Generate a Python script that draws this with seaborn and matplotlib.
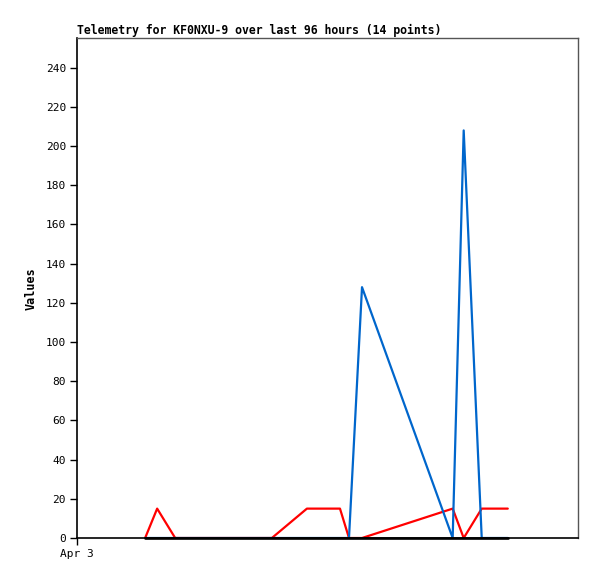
import pandas as pd
import matplotlib
matplotlib.use("Agg")
import matplotlib.pyplot as plt
import seaborn as sns

# hours since start of window (Apr 3)
hours = [13.6, 16.0, 19.6, 38.9, 45.9, 52.5, 54.3, 56.9, 75.0, 77.2, 80.8, 86.0]
red_vals = [0, 15, 0, 0, 15, 15, 0, 0, 15, 0, 15, 15]
blue_vals = [0, 0, 0, 0, 0, 0, 0, 128, 0, 208, 0, 0]
black_vals = [0] * len(hours)

yticks = [0, 20, 40, 60, 80, 100, 120, 140, 160, 180, 200, 220, 240]
xtick_pos = [0]
xtick_labels = ["Apr 3"]

df = pd.DataFrame({"hours": hours, "red": red_vals, "blue": blue_vals, "black": black_vals})

sns.set_style("white")
plt.rcParams["font.family"] = ["DejaVu Sans Mono"]
plt.rcParams["text.color"] = "black"
plt.rcParams["axes.labelcolor"] = "black"
plt.rcParams["xtick.color"] = "black"
plt.rcParams["ytick.color"] = "black"

fig = plt.figure(figsize=(5.97, 5.79), dpi=100)
ax = fig.add_axes([0.129, 0.0708, 0.839, 0.863])

sns.lineplot(data=df, x="hours", y="red", color="#ff0000", linewidth=1.6, ax=ax)
sns.lineplot(data=df, x="hours", y="blue", color="#0066cc", linewidth=1.6, ax=ax)
sns.lineplot(data=df, x="hours", y="black", color="#000000", linewidth=1.9, ax=ax)
ax.lines[-1].set_clip_on(False)
ax.lines[-1].set_zorder(5)

ax.set_xlim(0, 100)
ax.set_ylim(0, 255)
ax.set_yticks(yticks)
ax.set_xticks(xtick_pos)
ax.set_xticklabels(xtick_labels)
ax.tick_params(axis="both", direction="out", length=5, width=1, color="black",
               labelsize=8, pad=3, left=True, bottom=True, labelcolor="black")

ax.set_xlabel("")
ax.set_ylabel("Values", fontsize=8.5, fontweight="bold", labelpad=6, color="black")
ax.set_title("Telemetry for KF0NXU-9 over last 96 hours (14 points)",
             fontsize=8.3, fontweight="bold", loc="left", pad=3, color="black")

for side in ["left", "bottom"]:
    ax.spines[side].set_color("black")
    ax.spines[side].set_linewidth(1.2)
for side in ["top", "right"]:
    ax.spines[side].set_color("#555555")
    ax.spines[side].set_linewidth(1.0)

fig.savefig("out.png", dpi=100)
